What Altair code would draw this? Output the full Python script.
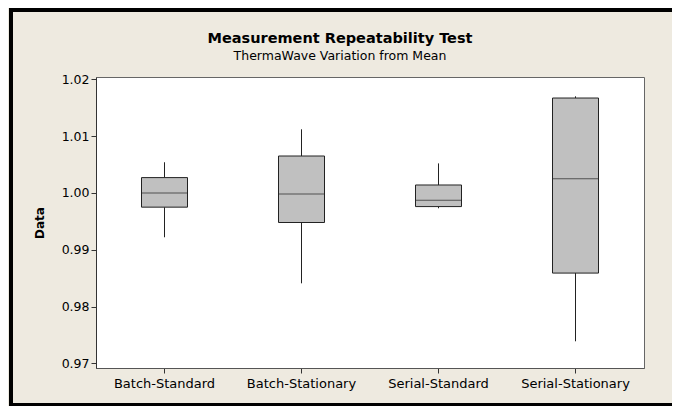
import altair as alt
import pandas as pd

# Summary statistics (box plots)
groups = ["Batch-Standard", "Batch-Stationary", "Serial-Standard", "Serial-Stationary"]
whisker_low = [0.9922, 0.9841, 0.9973, 0.9739]
q1 = [0.9975, 0.9948, 0.9976, 0.9859]
median = [1.0000, 0.9998, 0.9987, 1.0025]
q3 = [1.0027, 1.0065, 1.0014, 1.0167]
whisker_high = [1.0054, 1.0112, 1.0052, 1.0170]
y_ticks = [0.97, 0.98, 0.99, 1.00, 1.01, 1.02]
title_text = "Measurement Repeatability Test"
subtitle_text = "ThermaWave Variation from Mean"

df = pd.DataFrame({
    "group": groups,
    "low": whisker_low,
    "q1": q1,
    "median": median,
    "q3": q3,
    "high": whisker_high,
})

FONT = "DejaVu Sans"
W, H = 548, 291

x_enc = alt.X(
    "group:N",
    sort=groups,
    title=None,
    scale=alt.Scale(paddingInner=0, paddingOuter=0),
    axis=alt.Axis(
        labelAngle=0, labelFont=FONT, labelFontSize=13, labelColor="black",
        tickSize=5, tickColor="#333333", domainColor="#555555", labelPadding=4,
        grid=False,
    ),
)
y_scale = alt.Scale(domain=[0.9692, 1.0204], nice=False, zero=False)
y_axis = alt.Axis(
    values=y_ticks, format=".2f", title="Data", titleFont=FONT, titleFontSize=12,
    titleFontWeight="bold", titleColor="black", titlePadding=15,
    labelFont=FONT, labelFontSize=12.5, labelColor="black", labelPadding=2,
    tickSize=5, tickColor="#333333", domainColor="#333333", grid=False,
)

base = alt.Chart(df)

upper_whisker = base.mark_rule(color="#222222", strokeWidth=1).encode(
    x=x_enc, y=alt.Y("q3:Q", scale=y_scale, axis=y_axis), y2="high:Q"
)
lower_whisker = base.mark_rule(color="#222222", strokeWidth=1).encode(
    x=x_enc, y=alt.Y("low:Q", scale=y_scale, axis=y_axis), y2="q1:Q"
)
box = base.mark_bar(size=46, fill="#C0C0C0", stroke="#222222", strokeWidth=1).encode(
    x=x_enc, y=alt.Y("q1:Q", scale=y_scale, axis=y_axis), y2="q3:Q"
)
med = base.mark_tick(size=46, thickness=1, color="#222222").encode(
    x=x_enc, y=alt.Y("median:Q", scale=y_scale, axis=y_axis)
)

one = pd.DataFrame({"k": [0]})

# titles as text marks (positioned relative to the plot area)
title_mark = alt.Chart(one).mark_text(
    text=title_text, font=FONT, fontSize=14.5, fontWeight="bold", color="black",
    align="center", baseline="middle", clip=False,
).encode(x=alt.value(W / 2 - 30), y=alt.value(-38))
subtitle_mark = alt.Chart(one).mark_text(
    text=subtitle_text, font=FONT, fontSize=12.5, color="black",
    align="center", baseline="middle", clip=False,
).encode(x=alt.value(W / 2 - 30), y=alt.value(-21))

# outer black frame (decoration)
frame = alt.Chart(one).mark_rect(
    fill=None, stroke="black", strokeWidth=4, clip=False
).encode(
    x=alt.value(-85), x2=alt.value(W + 31),
    y=alt.value(-67), y2=alt.value(H + 37),
)

chart = alt.layer(
    upper_whisker, lower_whisker, box, med, title_mark, subtitle_mark, frame
).properties(
    width=W,
    height=H,
    autosize=alt.AutoSizeParams(type="none"),
    padding={"left": 88, "top": 69, "right": 28, "bottom": 38},
    background="#EEEAE0",
).configure_view(
    fill="white", stroke="#666666", strokeWidth=1
)

chart.save("out.html", embed_options={"renderer": "svg", "actions": False})
